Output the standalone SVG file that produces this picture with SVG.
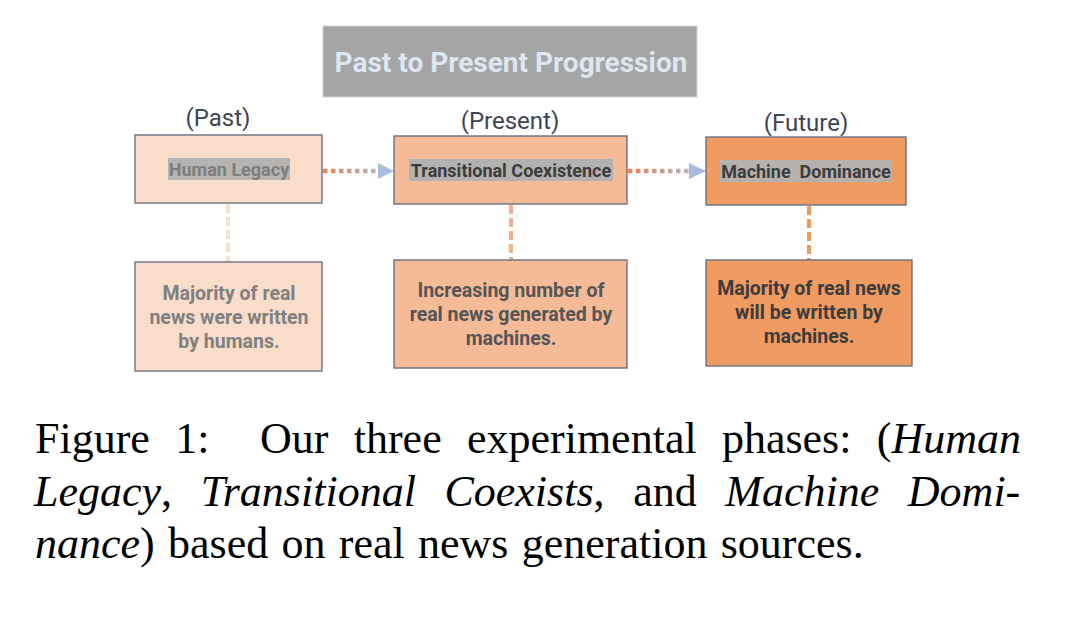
<svg xmlns="http://www.w3.org/2000/svg" width="1080" height="639" viewBox="0 0 1080 639">
<style>
.box{stroke:#6a7282;stroke-width:1.4}
.lab{font-family:Roboto,"Liberation Sans",sans-serif;font-weight:bold;text-anchor:middle}
.phase{font-family:Roboto,"Liberation Sans",sans-serif;font-size:24px;fill:#3e4556;text-anchor:middle}
.cap{font-family:"Liberation Serif","Times New Roman",serif;font-size:44px;fill:#000}
.it{font-style:italic}
.dots{stroke-width:4.5;stroke-dasharray:4.5 3.5;fill:none}
.vd{stroke-width:4;stroke-dasharray:9 4;fill:none}
</style>
<defs>
<linearGradient id="g1" gradientUnits="userSpaceOnUse" x1="322" y1="0" x2="378" y2="0">
<stop offset="0" stop-color="#e8824e"/><stop offset="1" stop-color="#b4b6c6"/></linearGradient>
<linearGradient id="g2" gradientUnits="userSpaceOnUse" x1="627" y1="0" x2="690" y2="0">
<stop offset="0" stop-color="#e8824e"/><stop offset="1" stop-color="#b4b6c6"/></linearGradient>
</defs>
<rect width="1080" height="639" fill="#ffffff"/>

<g id="title">
<rect x="323" y="26" width="374" height="71" fill="#a5a5a5" stroke="#d0d0d0" stroke-width="1"/>
<text x="511" y="72" class="lab" font-size="28" fill="#dde6f1">Past to Present Progression</text>
</g>

<g id="connectors">
<line x1="323" y1="171" x2="378" y2="171" class="dots" stroke="url(#g1)"/>
<polygon points="378,163 394,171 378,179" fill="#a9bcdf"/>
<line x1="628" y1="171" x2="690" y2="171" class="dots" stroke="url(#g2)"/>
<polygon points="689,163 706,171 689,179" fill="#a9bcdf"/>
<line x1="228" y1="204" x2="228" y2="262" class="vd" stroke="#f9dfcc"/>
<line x1="511" y1="205" x2="511" y2="260" class="vd" stroke="#f0b088"/>
<line x1="809" y1="206" x2="809" y2="260" class="vd" stroke="#ef9a5d"/>
</g>

<g id="past">
<text x="218" y="126" class="phase">(Past)</text>
<rect x="135" y="135" width="187" height="68" fill="#f8ddcb" class="box"/>
<rect x="168" y="158" width="122" height="22" fill="#b6b4b2"/>
<text x="229" y="176" class="lab" font-size="18" fill="#7d7d7d">Human Legacy</text>
</g>

<g id="present">
<text x="510" y="129" class="phase">(Present)</text>
<rect x="394" y="136" width="233" height="68" fill="#f4bb96" class="box"/>
<rect x="409" y="159" width="204" height="22" fill="#b4b2b0"/>
<text x="511" y="177" class="lab" font-size="18" fill="#3c3c3c">Transitional Coexistence</text>
</g>

<g id="future">
<text x="806" y="131" class="phase">(Future)</text>
<rect x="706" y="137" width="200" height="68" fill="#f09b62" class="box"/>
<rect x="720" y="160" width="172" height="22" fill="#b4b1ae"/>
<text x="806" y="178" class="lab" font-size="18" fill="#3c3c3c" xml:space="preserve">Machine  Dominance</text>
</g>

<g id="past-desc">
<rect x="135" y="262" width="187" height="109" fill="#f8ddcb" class="box"/>
<text class="lab" font-size="19.5" fill="#808080"><tspan x="229" y="300">Majority of real</tspan><tspan x="229" y="324">news were written</tspan><tspan x="229" y="348">by humans.</tspan></text>
</g>

<g id="present-desc">
<rect x="394" y="260" width="233" height="108" fill="#f4bb96" class="box"/>
<text class="lab" font-size="19.5" fill="#555555"><tspan x="511" y="297">Increasing number of</tspan><tspan x="511" y="321">real news generated by</tspan><tspan x="511" y="345">machines.</tspan></text>
</g>

<g id="future-desc">
<rect x="706" y="260" width="206" height="106" fill="#f09b62" class="box"/>
<text class="lab" font-size="19.5" fill="#3c3c3c"><tspan x="809" y="295">Majority of real news</tspan><tspan x="809" y="319">will be written by</tspan><tspan x="809" y="343">machines.</tspan></text>
</g>

<g id="caption" class="cap">
<text x="35" y="453" word-spacing="14.3" xml:space="preserve">Figure 1:  Our three experimental phases: (<tspan class="it">Human</tspan></text>
<text x="34" y="506" word-spacing="17.6"><tspan class="it">Legacy</tspan>, <tspan class="it">Transitional Coexists</tspan>, and <tspan class="it">Machine Domi-</tspan></text>
<text x="35" y="558" word-spacing="2.3"><tspan class="it">nance</tspan>) based on real news generation sources.</text>
</g>
</svg>
